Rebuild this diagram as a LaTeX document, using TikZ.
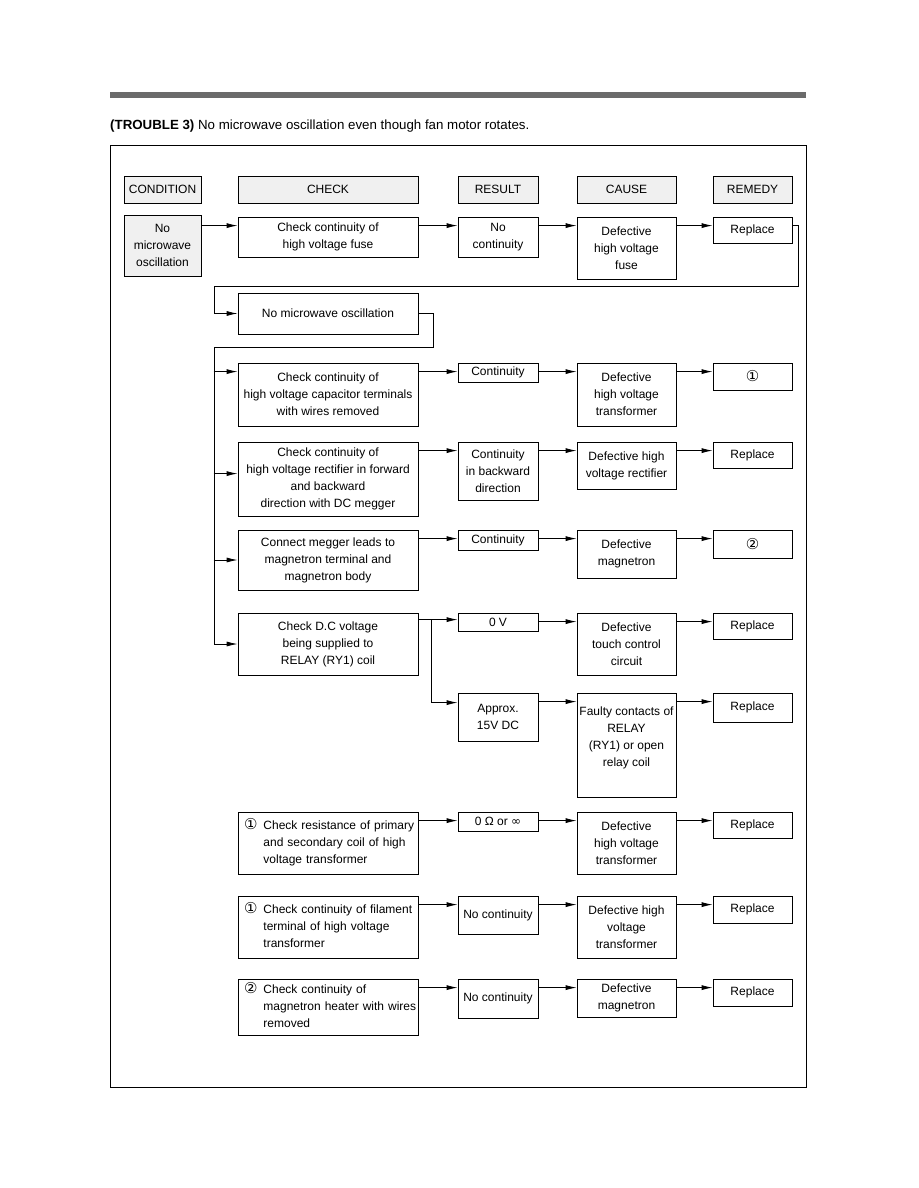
\documentclass[tikz,border=0pt]{standalone}
\usepackage{fontspec}
\setmainfont{Liberation Sans}
\newfontfamily\symfont{DejaVu Sans}
\usetikzlibrary{arrows.meta}

\newcommand{\circnum}[1]{{\symfont\fontsize{15}{17}\selectfont #1}}

\tikzset{
  every node/.style={font=\fontsize{12}{17}\selectfont},
  box/.style={draw, line width=0.8pt, align=center, inner sep=2pt},
  hdr/.style={box, fill=gray!12},
  chkcol/.style={box, minimum width=180},
  rescol/.style={box, minimum width=80},
  caucol/.style={box, minimum width=99},
  remcol/.style={box, minimum width=79},
  numbox/.style={chkcol, text width=168, inner xsep=6, align=left},
  arr/.style={line width=0.8pt, -{Latex[length=11pt,width=5pt]}},
}

\begin{document}
\begin{tikzpicture}[x=1pt, y=-1pt]
  \useasboundingbox (0,0) rectangle (918,1188);
  % page bar, title, frame
  \fill[black!58] (110,92) rectangle (806,98);
  \node[anchor=base west, inner sep=0, font=\fontsize{13.3}{16}\selectfont] (title) at (110,130) {\textbf{(TROUBLE 3)} No microwave oscillation even though fan motor rotates.};
  \draw[line width=0.9pt] (110,145) rectangle (806,1087);

  % column heads
  \node[hdr, minimum width=77, minimum height=27] (hcond) at (162.5,189.5) {CONDITION};
  \node[hdr, chkcol, minimum height=27] (hchk) at (328,189.5) {CHECK};
  \node[hdr, rescol, minimum height=27] (hres) at (498,189.5) {RESULT};
  \node[hdr, caucol, minimum height=27] (hcau) at (626.5,189.5) {CAUSE};
  \node[hdr, remcol, minimum height=27] (hrem) at (752.5,189.5) {REMEDY};

  % first row
  \node[hdr, minimum width=77, minimum height=61] (cond) at (162.5,245.5) {No\\microwave\\oscillation};
  \node[chkcol, minimum height=40] (chk1) at (328,237) {Check continuity of\\high voltage fuse};
  \node[rescol, minimum height=40] (res1) at (498,237) {No\\continuity};
  \node[caucol, minimum height=62] (cau1) at (626.5,248) {Defective\\high voltage\\fuse};
  \node[remcol, minimum height=26] (rem1) at (752.5,230) {Replace};

  \node[chkcol, minimum height=41] (nmo) at (328,313.5) {No microwave oscillation};

  % checks
  \node[chkcol, minimum height=63] (chk2) at (328,394.5) {Check continuity of\\high voltage capacitor terminals\\with wires removed};
  \node[rescol, minimum height=19] (res2) at (498,372.5) {Continuity};
  \node[caucol, minimum height=63] (cau2) at (626.5,394.5) {Defective\\high voltage\\transformer};
  \node[remcol, minimum height=27] (rem2) at (752.5,376.5) {\circnum{①}};

  \node[chkcol, minimum height=74] (chk3) at (328,479) {Check continuity of\\high voltage rectifier in forward\\and backward\\direction with DC megger};
  \node[rescol, minimum height=58] (res3) at (498,471) {Continuity\\in backward\\direction};
  \node[caucol, minimum height=47] (cau3) at (626.5,465.5) {Defective high\\voltage rectifier};
  \node[remcol, minimum height=26] (rem3) at (752.5,455) {Replace};

  \node[chkcol, minimum height=60] (chk4) at (328,560) {Connect megger leads to\\magnetron terminal and\\magnetron body};
  \node[rescol, minimum height=20] (res4) at (498,540) {Continuity};
  \node[caucol, minimum height=48] (cau4) at (626.5,554) {Defective\\magnetron};
  \node[remcol, minimum height=28] (rem4) at (752.5,544) {\circnum{②}};

  \node[chkcol, minimum height=62] (chk5) at (328,644) {Check D.C voltage\\being supplied to\\RELAY (RY1) coil};
  \node[rescol, minimum height=18] (res5a) at (498,622) {0 V};
  \node[caucol, minimum height=62] (cau5a) at (626.5,644) {Defective\\touch control\\circuit};
  \node[remcol, minimum height=26] (rem5a) at (752.5,626) {Replace};
  \node[rescol, minimum height=48] (res5b) at (498,717) {Approx.\\15V DC};
  \node[caucol, minimum height=104] (cau5b) at (626.5,745) {Faulty contacts of\\RELAY\\(RY1) or open\\relay coil\\ };
  \node[remcol, minimum height=29] (rem5b) at (752.5,707.5) {Replace};

  % numbered checks
  \node[numbox, minimum height=62] (chk6) at (328,843) {\begin{tabular}{@{}l@{\hspace{6pt}}l@{}}\circnum{①} & Check resistance of primary\\ & and secondary coil of high\\ & voltage transformer\end{tabular}};
  \node[rescol, minimum height=19] (res6) at (498,821.5) {0 Ω or {\symfont ∞}};
  \node[caucol, minimum height=62] (cau6) at (626.5,843) {Defective\\high voltage\\transformer};
  \node[remcol, minimum height=26] (rem6) at (752.5,825) {Replace};

  \node[numbox, minimum height=62] (chk7) at (328,927) {\begin{tabular}{@{}l@{\hspace{6pt}}l@{}}\circnum{①} & Check continuity of filament\\ & terminal of high voltage\\ & transformer\end{tabular}};
  \node[rescol, minimum height=38] (res7) at (498,915) {No continuity};
  \node[caucol, minimum height=62] (cau7) at (626.5,927) {Defective high\\voltage\\transformer};
  \node[remcol, minimum height=27] (rem7) at (752.5,909.5) {Replace};

  \node[numbox, minimum height=56] (chk8) at (328,1007) {\begin{tabular}{@{}l@{\hspace{6pt}}l@{}}\circnum{②} & Check continuity of\\ & magnetron heater with wires\\ & removed\end{tabular}};
  \node[rescol, minimum height=39] (res8) at (498,998.5) {No continuity};
  \node[caucol, minimum height=38] (cau8) at (626.5,998) {Defective\\magnetron};
  \node[remcol, minimum height=27] (rem8) at (752.5,992.5) {Replace};

  % connectors
  \draw[arr] ([yshift=-11pt]cond.north east) -- ([yshift=-9pt]chk1.north west);
  \foreach \a/\b in {chk1/res1, res1/cau1, cau1/rem1, chk2/res2, res2/cau2, cau2/rem2,
                     chk3/res3, res3/cau3, cau3/rem3, chk4/res4, res4/cau4, cau4/rem4,
                     res5a/cau5a, cau5a/rem5a, res5b/cau5b, cau5b/rem5b,
                     chk6/res6, res6/cau6, cau6/rem6, chk7/res7, res7/cau7, cau7/rem7,
                     chk8/res8, res8/cau8, cau8/rem8} {
    \draw[arr] ([yshift=-9pt]\a.north east) -- ([yshift=-9pt]\b.north west);
  }

  \coordinate (loopA) at (798,286);
  \coordinate (loopB) at (214,286);
  \draw[arr] ([yshift=-9pt]rem1.north east) -| (loopA) -- (loopB) |- (nmo.west);

  \coordinate (busA) at (433,347);
  \coordinate (busB) at (214,347);
  \draw[arr] (nmo.east) -| (busA) -- (busB) |- (chk5.west);
  \draw[arr] ([xshift=-24pt,yshift=-9pt]chk2.north west) -- ([yshift=-9pt]chk2.north west);
  \draw[arr] ([xshift=-24pt,yshift=-32pt]chk3.north west) -- ([yshift=-32pt]chk3.north west);
  \draw[arr] ([xshift=-24pt]chk4.west) -- (chk4.west);

  \draw[arr] ([yshift=-7pt]chk5.north east) -- ([yshift=-7pt]res5a.north west);
  \draw[arr] ([xshift=13pt,yshift=-7pt]chk5.north east) |- ([yshift=-10pt]res5b.north west);
\end{tikzpicture}
\end{document}
